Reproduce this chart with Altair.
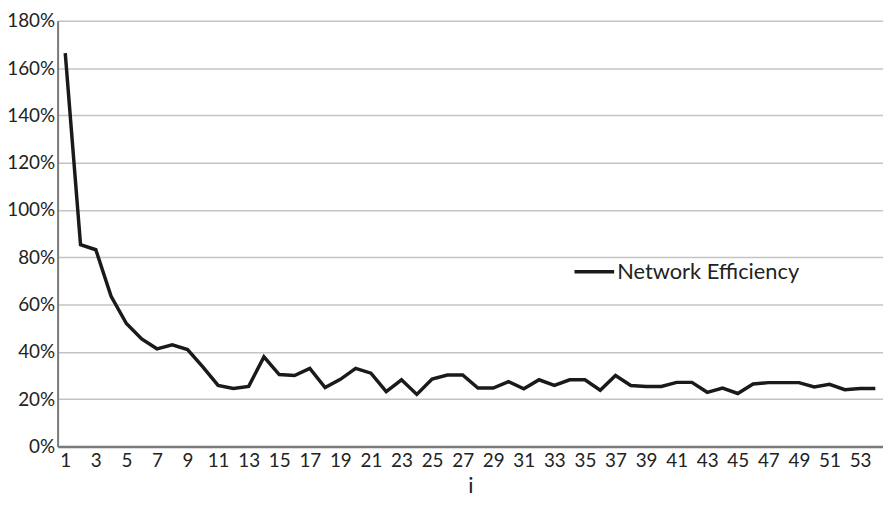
import altair as alt
import pandas as pd

iters = list(range(1, 55))
efficiency = [
    166.4, 85.3, 83.2, 63.5, 52.0, 45.5, 41.3, 43.0, 41.0, 33.7,
    25.8, 24.5, 25.4, 37.9, 30.4, 30.0, 33.0, 24.9, 28.4, 33.0,
    31.0, 23.2, 28.2, 22.0, 28.5, 30.2, 30.2, 24.7, 24.7, 27.4,
    24.4, 28.2, 25.8, 28.2, 28.2, 23.8, 30.0, 25.8, 25.4, 25.4,
    27.1, 27.1, 22.9, 24.7, 22.4, 26.4, 27.0, 27.0, 27.0, 25.2,
    26.3, 24.0, 24.5, 24.5,
]
series = "Network Efficiency"
x_labels = list(range(1, 54, 2))
y_ticks = [0, 0.2, 0.4, 0.6, 0.8, 1.0, 1.2, 1.4, 1.6, 1.8]

df = pd.DataFrame({
    "i": iters,
    "value": [v / 100 for v in efficiency],
    "series": [series] * len(iters),
})

FONT = "Lato"

chart = alt.Chart(df).mark_line(strokeWidth=3.5, strokeJoin="miter").encode(
    x=alt.X("i:O", title="i",
            scale=alt.Scale(paddingInner=0, paddingOuter=0, align=0.5),
            axis=alt.Axis(values=x_labels, labelAngle=0, ticks=False,
                          labelFontSize=19, labelFont=FONT, labelColor="#222",
                          labelPadding=5, titleFontSize=22, titleFont=FONT,
                          titleFontWeight="normal", titleColor="#222",
                          titlePadding=5, domainColor="#7a7a7a", domainWidth=2.5,
                          grid=False)),
    y=alt.Y("value:Q", title=None,
            scale=alt.Scale(domain=[0, 1.8], nice=False),
            axis=alt.Axis(values=y_ticks, format=".0%", ticks=False,
                          labelFontSize=19, labelFont=FONT, labelColor="#222",
                          labelPadding=3, domainColor="#7a7a7a", domainWidth=2,
                          gridColor="#c4c4c4", gridWidth=1.5)),
    color=alt.Color("series:N", title=None,
                    scale=alt.Scale(range=["#1a1a1a"]),
                    legend=alt.Legend(orient="none", legendX=519, legendY=231,
                                      symbolType="stroke", symbolSize=1600,
                                      symbolStrokeWidth=3.5, labelLimit=400,
                                      labelFontSize=22, labelFont=FONT,
                                      labelColor="#222", labelOffset=1)),
).properties(
    width=832, height=429,
    autosize=alt.AutoSizeParams(type="none"),
    padding={"left": 50, "top": 11, "right": 0, "bottom": 51},
).configure_view(stroke=None).configure(background="white")

chart.save("out.html", embed_options={"renderer": "svg", "actions": False})
